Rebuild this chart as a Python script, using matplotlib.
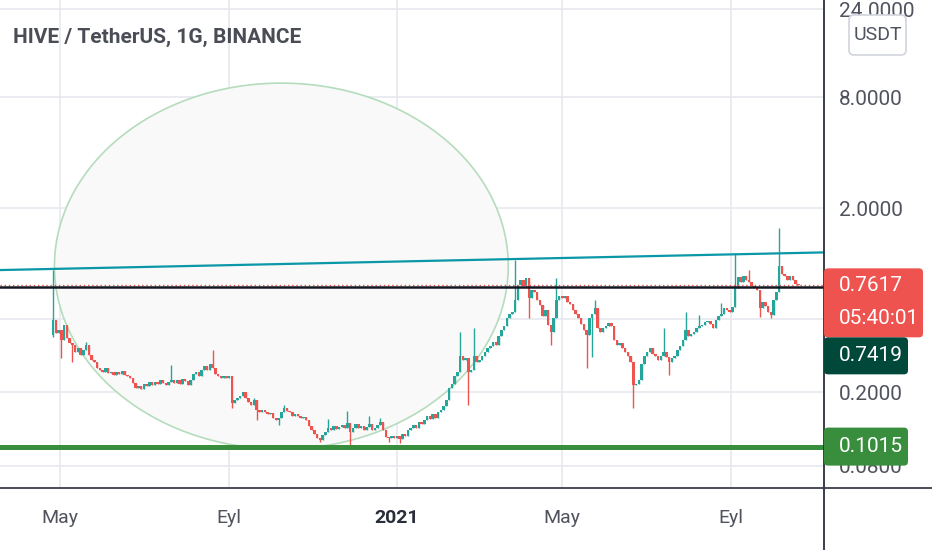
import matplotlib
matplotlib.use("Agg")
import matplotlib.pyplot as plt
import matplotlib.dates as mdates
from matplotlib.patches import FancyBboxPatch
from matplotlib.lines import Line2D
from matplotlib.transforms import IdentityTransform
import numpy as np
import pandas as pd

plt.rcParams['font.family'] = ['Roboto', 'DejaVu Sans']

# HIVE / USDT, drawn as 2-day candles
start = "2020-04-26"
first_open = 0.41
closes = [
    0.494, 0.420, 0.436, 0.384, 0.464, 0.394, 0.370, 0.361, 0.331, 0.348,
    0.319, 0.339, 0.361, 0.319, 0.299, 0.292, 0.271, 0.264, 0.258, 0.271,
    0.254, 0.258, 0.248, 0.258, 0.251, 0.261, 0.248, 0.245, 0.239, 0.225,
    0.211, 0.216, 0.208, 0.222, 0.216, 0.227, 0.219, 0.227, 0.222, 0.233,
    0.225, 0.219, 0.227, 0.233, 0.225, 0.233, 0.222, 0.236, 0.230, 0.219,
    0.233, 0.251, 0.258, 0.245, 0.264, 0.278, 0.264, 0.285, 0.271, 0.251,
    0.245, 0.239, 0.245, 0.239, 0.245, 0.175, 0.182, 0.186, 0.191, 0.201,
    0.186, 0.177, 0.171, 0.182, 0.160, 0.157, 0.160, 0.157, 0.153, 0.155,
    0.145, 0.141, 0.145, 0.157, 0.165, 0.158, 0.157, 0.149, 0.153, 0.149,
    0.145, 0.147, 0.141, 0.131, 0.125, 0.119, 0.113, 0.110, 0.117, 0.122,
    0.128, 0.125, 0.131, 0.127, 0.130, 0.133, 0.128, 0.136, 0.122, 0.128,
    0.135, 0.128, 0.131, 0.125, 0.130, 0.135, 0.125, 0.128, 0.133, 0.138,
    0.125, 0.115, 0.113, 0.116, 0.113, 0.116, 0.112, 0.119, 0.116, 0.125,
    0.128, 0.133, 0.128, 0.138, 0.135, 0.141, 0.149, 0.144, 0.153, 0.145,
    0.157, 0.160, 0.169, 0.182, 0.211, 0.222, 0.245, 0.258, 0.315, 0.299,
    0.307, 0.258, 0.264, 0.315, 0.292, 0.299, 0.315, 0.331, 0.348, 0.357,
    0.375, 0.361, 0.404, 0.436, 0.458, 0.506, 0.532, 0.546, 0.634, 0.764,
    0.814, 0.755, 0.834, 0.650, 0.718, 0.700, 0.634, 0.595, 0.519, 0.559,
    0.464, 0.425, 0.506, 0.634, 0.666, 0.650, 0.666, 0.618, 0.603, 0.559,
    0.532, 0.506, 0.470, 0.436, 0.409, 0.506, 0.532, 0.574, 0.447, 0.425,
    0.447, 0.458, 0.476, 0.458, 0.384, 0.361, 0.370, 0.348, 0.331, 0.315,
    0.292, 0.219, 0.222, 0.233, 0.285, 0.315, 0.331, 0.348, 0.323, 0.315,
    0.299, 0.315, 0.331, 0.311, 0.292, 0.307, 0.315, 0.339, 0.357, 0.384,
    0.436, 0.404, 0.415, 0.425, 0.447, 0.458, 0.464, 0.482, 0.488, 0.470,
    0.447, 0.494, 0.519, 0.532, 0.574, 0.559, 0.546, 0.581, 0.736, 0.845,
    0.794, 0.855, 0.814, 0.794, 0.755, 0.745, 0.718, 0.574, 0.618, 0.588,
    0.546, 0.525, 0.634, 0.700, 0.969, 0.877, 0.855, 0.814, 0.855, 0.814,
    0.774, 0.7617,
]
# visible wicks (candle index -> price)
wick_highs = {0: 0.92, 12: 0.375, 43: 0.281, 58: 0.339, 73: 0.186, 84: 0.171,
              100: 0.144, 107: 0.158, 115: 0.149, 119: 0.145, 148: 0.425,
              153: 0.447, 168: 1.04, 183: 0.834, 197: 0.634, 222: 0.447,
              230: 0.546, 235: 0.525, 243: 0.611, 248: 1.14, 253: 0.922,
              264: 1.56}
wick_lows = {0: 0.40, 3: 0.307, 7: 0.292, 65: 0.165, 74: 0.141, 82: 0.133,
             97: 0.108, 108: 0.104, 122: 0.108, 126: 0.106, 151: 0.171,
             173: 0.506, 181: 0.361, 194: 0.271, 196: 0.311, 211: 0.165,
             224: 0.248, 257: 0.513, 261: 0.506}

# drawings on the chart
trend_dates = ["2020-03-18", "2021-11-08"]
trend_prices = [0.922, 1.15]
last_price = 0.7617
level_price = 0.7419
support_price = 0.1015
countdown = "05:40:01"
ellipse_dates = ["2020-04-27", "2021-03-23"]
ellipse_prices = [0.0984, 9.54]

y_ticks = [0.08, 0.2, 0.5, 2.0, 8.0, 24.0]
y_labels = ["0.0800", "0.2000", "", "2.0000", "8.0000", "24.0000"]  # 0.5 sits under the price tags
x_ticks = ["2020-05-01", "2020-09-01", "2021-01-01", "2021-05-01", "2021-09-01"]
x_labels = ["May", "Eyl", "2021", "May", "Eyl"]
title = "HIVE / TetherUS, 1G, BINANCE"

UP, DOWN = "#26a69a", "#ef5350"
TXT = "#50535e"

W, H = 932, 550
fig = plt.figure(figsize=(W / 100, H / 100), dpi=100)
ax = fig.add_axes([0, 62 / H, 824 / W, 488 / H])
ax.set_yscale("log")
ax.set_xlim(pd.Timestamp("2020-03-18 10:00"), pd.Timestamp("2021-11-07 14:00"))
ax.set_ylim(0.0605, 26.96)

# grid
for t in x_ticks:
    ax.axvline(pd.Timestamp(t), color="#e6e9f0", lw=1.2, zorder=0)
for v in y_ticks:
    ax.axhline(v, color="#e6e9f0", lw=1.2, zorder=0)

# ellipse (straight in date / log-price space)
x0, x1 = mdates.date2num(pd.to_datetime(ellipse_dates))
l0, l1 = np.log10(ellipse_prices)
t = np.linspace(0, 2 * np.pi, 300)
ex = (x0 + x1) / 2 + (x1 - x0) / 2 * np.cos(t)
ey = 10 ** ((l0 + l1) / 2 + (l1 - l0) / 2 * np.sin(t))
ax.fill(ex, ey, facecolor="#f8f9f8", edgecolor="#b5dcbc", lw=1.2, zorder=1)

# candles
dates = pd.date_range(start, periods=len(closes), freq="2D")
opens = [first_open] + closes[:-1]
highs = [max(o, c) for o, c in zip(opens, closes)]
lows = [min(o, c) for o, c in zip(opens, closes)]
for i, v in wick_highs.items():
    highs[i] = v
for i, v in wick_lows.items():
    lows[i] = v
cols = [UP if c >= o else DOWN for o, c in zip(opens, closes)]
ax.vlines(dates, lows, highs, colors=cols, lw=1.0, zorder=3)
bottoms = [min(o, c) for o, c in zip(opens, closes)]
heights = [max(abs(c - o), min(o, c) * 0.015) for o, c in zip(opens, closes)]
ax.bar(dates, heights, bottom=bottoms, width=1.8, color=cols, lw=0, zorder=3)

# lines
ax.plot(pd.to_datetime(trend_dates), trend_prices, color="#0a97a8", lw=1.6, zorder=4)
ax.axhline(last_price, color=DOWN, lw=1.0, ls=(0, (1, 2)), zorder=4)
ax.axhline(level_price, color="#131722", lw=1.8, zorder=4)
ax.axhline(support_price, color="#388e3c", lw=3.6, zorder=4)

# axes styling
for s in ax.spines.values():
    s.set_visible(False)
ax.set_xticks(pd.to_datetime(x_ticks))
ax.set_xticklabels(x_labels)
ax.tick_params(axis="x", length=0, pad=15, labelsize=14, labelcolor=TXT)
ax.get_xticklabels()[2].set_fontweight("bold")
ax.get_xticklabels()[2].set_color("#2a2e39")
ax.yaxis.tick_right()
ax.set_yticks(y_ticks)
ax.set_yticklabels(y_labels)
ax.yaxis.set_minor_locator(matplotlib.ticker.NullLocator())
ax.tick_params(axis="y", length=0, pad=11, labelsize=15, labelcolor=TXT)

# frame lines
fig.add_artist(Line2D([824, 824], [0, H], transform=IdentityTransform(), color="#2a2e39", lw=1.3))
fig.add_artist(Line2D([0, W], [62, 62], transform=IdentityTransform(), color="#3a3e4a", lw=1.3))

fig.text(13 / W, 1 - 37 / H, title, fontsize=15, fontweight="bold", color="#4a4d56", va="center")

# price labels
def ypix(v):
    return ax.transData.transform((mdates.date2num(pd.Timestamp("2021-01-01")), v))[1]

yl = ypix(last_price)
boxes = [
    (824, yl - 52, 99, 69, DOWN),
    (824, yl - 89, 84, 37, "#00483a"),
    (824, ypix(support_price) - 19, 84, 38, "#388e3c"),
]
for bx, by, bw, bh, c in boxes:
    fig.add_artist(FancyBboxPatch((bx, by), bw, bh, boxstyle="round,pad=0,rounding_size=4",
                                  transform=IdentityTransform(), facecolor=c, edgecolor="none", zorder=2))
lab = dict(color="white", fontsize=15, va="center", ha="left", zorder=3)
fig.text(839 / W, yl / H, "%.4f" % last_price, **lab)
fig.text(839 / W, (yl - 33) / H, countdown, **lab)
fig.text(839 / W, (yl - 70.5) / H, "%.4f" % level_price, **lab)
fig.text(839 / W, ypix(support_price) / H, "%.4f" % support_price, **lab)

fig.add_artist(FancyBboxPatch((849, 495), 57, 40, boxstyle="round,pad=0,rounding_size=5",
                              transform=IdentityTransform(), facecolor="white",
                              edgecolor="#d1d4dc", lw=1.2, zorder=2))
fig.text(877.5 / W, 515 / H, "USDT", color=TXT, fontsize=14, ha="center", va="center", zorder=3)

fig.savefig("out.png", dpi=100)
